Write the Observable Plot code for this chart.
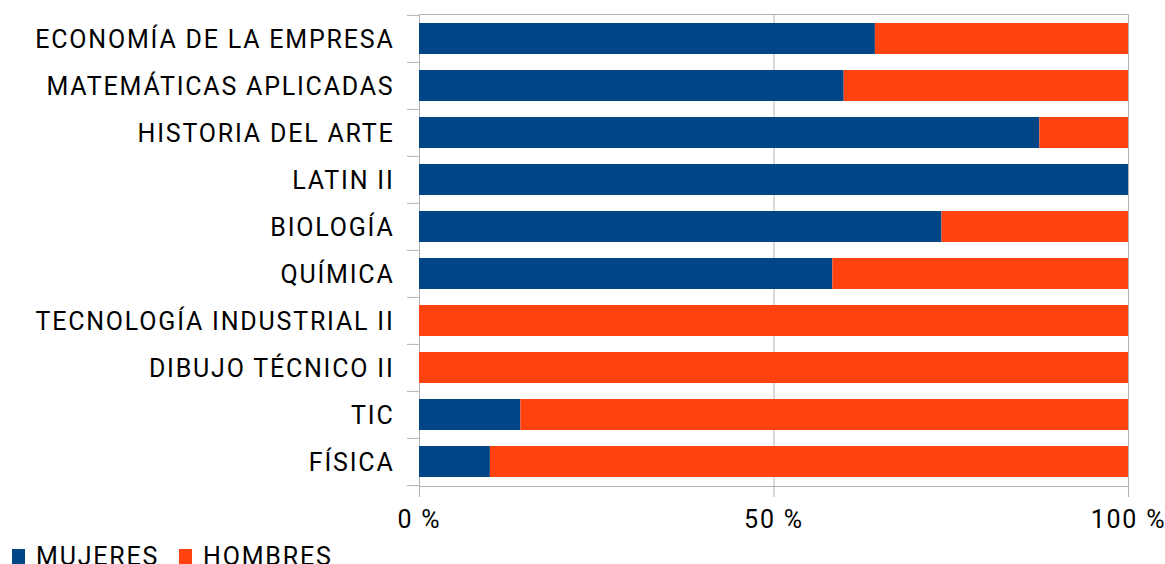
<!DOCTYPE html>
<html>
<head>
<meta charset="utf-8">
<script src="https://cdn.jsdelivr.net/npm/d3@7"></script>
<script src="https://cdn.jsdelivr.net/npm/@observablehq/plot@0.6"></script>
<style>
  html, body { margin: 0; padding: 0; background: #fff; overflow: hidden; }
  body { width: 1165px; height: 564px; font-family: Roboto, sans-serif; }
  #chart svg text { letter-spacing: 1.8px; }
  #legend { display: flex; align-items: flex-start; height: 20px; font-size: 25px; line-height: 25px; color: #000; padding-left: 12px; letter-spacing: 1.8px; }
  .item { display: flex; align-items: flex-start; margin-right: 20px; }
  .sw { width: 13px; height: 16px; margin-top: 5px; margin-right: 11px; }
</style>
</head>
<body>
<div id="chart"></div>
<div id="legend"></div>
<script>
const categories = [
  "ECONOMÍA DE LA EMPRESA",
  "MATEMÁTICAS APLICADAS",
  "HISTORIA DEL ARTE",
  "LATIN II",
  "BIOLOGÍA",
  "QUÍMICA",
  "TECNOLOGÍA INDUSTRIAL II",
  "DIBUJO TÉCNICO II",
  "TIC",
  "FÍSICA"
];
const series = ["MUJERES", "HOMBRES"];
const colors = ["#004586", "#ff420e"];
const mujeres = [64.3, 59.9, 87.5, 100, 73.7, 58.3, 0, 0, 14.3, 10.0];
const hombres = [35.7, 40.1, 12.5, 0, 26.3, 41.7, 100, 100, 85.7, 90.0];
const xTicks = [0, 50, 100];

const data = [];
categories.forEach((c, i) => {
  data.push({category: c, series: series[0], value: mujeres[i]});
  data.push({category: c, series: series[1], value: hombres[i]});
});

const width = 1165, height = 544;
const marginTop = 14, marginBottom = 58, marginLeft = 419, marginRight = 37;
const step = (height - marginTop - marginBottom) / categories.length;
const tickLen = 12 * 100 / (width - marginLeft - marginRight);

const chart = Plot.plot({
  width, height, marginTop, marginBottom, marginLeft, marginRight,
  style: {fontFamily: "Roboto, sans-serif", fontSize: "25px", color: "#000", background: "#fff"},
  x: {domain: [0, 100], axis: null},
  y: {domain: categories, paddingInner: 0.35, paddingOuter: 0.175, axis: null},
  color: {domain: series, range: colors},
  marks: [
    Plot.ruleX(xTicks, {stroke: "#b3b3b3", insetBottom: -11}),
    Plot.frame({stroke: "#b3b3b3"}),
    Plot.ruleY(categories, {y: d => d, dy: -step / 2, x1: -tickLen, x2: 0, stroke: "#b3b3b3", clip: false}),
    Plot.ruleY(categories.slice(-1), {y: d => d, dy: step / 2, x1: -tickLen, x2: 0, stroke: "#b3b3b3", clip: false}),
    Plot.barX(data, Plot.stackX({x: "value", y: "category", fill: "series", order: series})),
    Plot.axisY({tickSize: 0, tickPadding: 25, fontSize: 25, label: null, dy: 1}),
    Plot.axisX({ticks: xTicks, tickSize: 0, tickPadding: 24, tickFormat: d => d + " %", fontSize: 25, label: null})
  ]
});
document.getElementById("chart").appendChild(chart);

const legend = document.getElementById("legend");
series.forEach((s, i) => {
  const item = document.createElement("div");
  item.className = "item";
  const sw = document.createElement("div");
  sw.className = "sw";
  sw.style.background = colors[i];
  const label = document.createElement("span");
  label.textContent = s;
  item.appendChild(sw);
  item.appendChild(label);
  legend.appendChild(item);
});
</script>
</body>
</html>
